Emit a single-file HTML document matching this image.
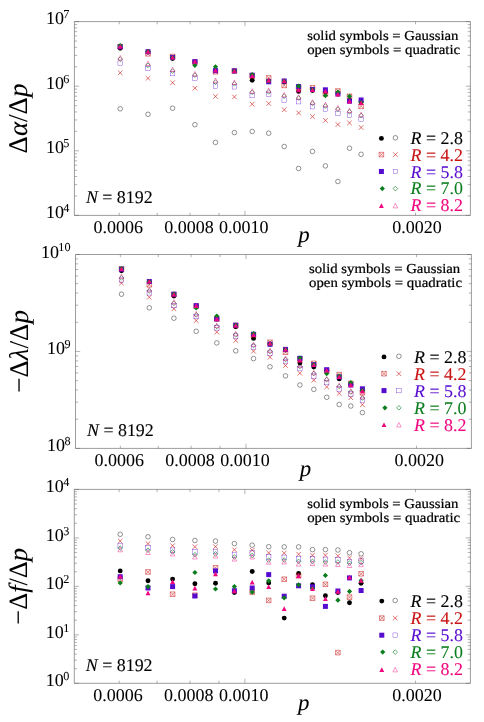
<!DOCTYPE html>
<html><head><meta charset="utf-8"><title>figure</title>
<style>html,body{margin:0;padding:0;background:#fff}svg{display:block;text-rendering:geometricPrecision;will-change:transform}text{font-family:'Liberation Serif', serif;stroke:#000;stroke-width:.05px}.c{stroke-width:.22px}.l{stroke-width:.1px}</style>
</head><body>
<svg width="484" height="722" viewBox="0 0 484 722">
<rect width="484" height="722" fill="#fff"/>
<g>
<circle cx="120.2" cy="108.8" r="2.3" fill="none" stroke="#000000" stroke-width="0.42"/>
<circle cx="148" cy="114.3" r="2.3" fill="none" stroke="#000000" stroke-width="0.42"/>
<circle cx="172.6" cy="108.2" r="2.3" fill="none" stroke="#000000" stroke-width="0.42"/>
<circle cx="194.9" cy="124.7" r="2.3" fill="none" stroke="#000000" stroke-width="0.42"/>
<circle cx="215.5" cy="142.4" r="2.3" fill="none" stroke="#000000" stroke-width="0.42"/>
<circle cx="234.4" cy="132.6" r="2.3" fill="none" stroke="#000000" stroke-width="0.42"/>
<circle cx="252.2" cy="131.4" r="2.3" fill="none" stroke="#000000" stroke-width="0.42"/>
<circle cx="268.7" cy="133.2" r="2.3" fill="none" stroke="#000000" stroke-width="0.42"/>
<circle cx="284.2" cy="146.5" r="2.3" fill="none" stroke="#000000" stroke-width="0.42"/>
<circle cx="298.6" cy="168.5" r="2.3" fill="none" stroke="#000000" stroke-width="0.42"/>
<circle cx="312.5" cy="151.4" r="2.3" fill="none" stroke="#000000" stroke-width="0.42"/>
<circle cx="325.4" cy="165.9" r="2.3" fill="none" stroke="#000000" stroke-width="0.42"/>
<circle cx="337.9" cy="181.5" r="2.3" fill="none" stroke="#000000" stroke-width="0.42"/>
<circle cx="349.5" cy="148.2" r="2.3" fill="none" stroke="#000000" stroke-width="0.42"/>
<circle cx="361.1" cy="154.3" r="2.3" fill="none" stroke="#000000" stroke-width="0.42"/>
<path d="M117.9 70.5l4.6 4.6 M117.9 75.1l4.6 -4.6" fill="none" stroke="#c81414" stroke-width="0.6"/>
<path d="M145.7 76l4.6 4.6 M145.7 80.6l4.6 -4.6" fill="none" stroke="#c81414" stroke-width="0.6"/>
<path d="M170.3 80.4l4.6 4.6 M170.3 85l4.6 -4.6" fill="none" stroke="#c81414" stroke-width="0.6"/>
<path d="M192.6 85.9l4.6 4.6 M192.6 90.5l4.6 -4.6" fill="none" stroke="#c81414" stroke-width="0.6"/>
<path d="M213.2 94.1l4.6 4.6 M213.2 98.7l4.6 -4.6" fill="none" stroke="#c81414" stroke-width="0.6"/>
<path d="M232.1 94.6l4.6 4.6 M232.1 99.2l4.6 -4.6" fill="none" stroke="#c81414" stroke-width="0.6"/>
<path d="M249.9 101.9l4.6 4.6 M249.9 106.5l4.6 -4.6" fill="none" stroke="#c81414" stroke-width="0.6"/>
<path d="M266.4 101.2l4.6 4.6 M266.4 105.8l4.6 -4.6" fill="none" stroke="#c81414" stroke-width="0.6"/>
<path d="M281.9 107.4l4.6 4.6 M281.9 112l4.6 -4.6" fill="none" stroke="#c81414" stroke-width="0.6"/>
<path d="M296.3 110.6l4.6 4.6 M296.3 115.2l4.6 -4.6" fill="none" stroke="#c81414" stroke-width="0.6"/>
<path d="M310.2 114.3l4.6 4.6 M310.2 118.9l4.6 -4.6" fill="none" stroke="#c81414" stroke-width="0.6"/>
<path d="M323.1 118.1l4.6 4.6 M323.1 122.7l4.6 -4.6" fill="none" stroke="#c81414" stroke-width="0.6"/>
<path d="M335.6 122.2l4.6 4.6 M335.6 126.8l4.6 -4.6" fill="none" stroke="#c81414" stroke-width="0.6"/>
<path d="M347.2 120.6l4.6 4.6 M347.2 125.2l4.6 -4.6" fill="none" stroke="#c81414" stroke-width="0.6"/>
<path d="M358.8 125.2l4.6 4.6 M358.8 129.8l4.6 -4.6" fill="none" stroke="#c81414" stroke-width="0.6"/>
<rect x="117.95" y="60.95" width="4.5" height="4.5" fill="none" stroke="#560ccf" stroke-width="0.34"/>
<rect x="145.75" y="66.15" width="4.5" height="4.5" fill="none" stroke="#560ccf" stroke-width="0.34"/>
<rect x="170.35" y="71.35" width="4.5" height="4.5" fill="none" stroke="#560ccf" stroke-width="0.34"/>
<rect x="192.65" y="76.05" width="4.5" height="4.5" fill="none" stroke="#560ccf" stroke-width="0.34"/>
<rect x="213.25" y="83.75" width="4.5" height="4.5" fill="none" stroke="#560ccf" stroke-width="0.34"/>
<rect x="232.15" y="84.55" width="4.5" height="4.5" fill="none" stroke="#560ccf" stroke-width="0.34"/>
<rect x="249.95" y="93.35" width="4.5" height="4.5" fill="none" stroke="#560ccf" stroke-width="0.34"/>
<rect x="266.45" y="92.05" width="4.5" height="4.5" fill="none" stroke="#560ccf" stroke-width="0.34"/>
<rect x="281.95" y="97.85" width="4.5" height="4.5" fill="none" stroke="#560ccf" stroke-width="0.34"/>
<rect x="296.35" y="99.45" width="4.5" height="4.5" fill="none" stroke="#560ccf" stroke-width="0.34"/>
<rect x="310.25" y="104.45" width="4.5" height="4.5" fill="none" stroke="#560ccf" stroke-width="0.34"/>
<rect x="323.15" y="107.05" width="4.5" height="4.5" fill="none" stroke="#560ccf" stroke-width="0.34"/>
<rect x="335.65" y="111.15" width="4.5" height="4.5" fill="none" stroke="#560ccf" stroke-width="0.34"/>
<rect x="347.25" y="112.95" width="4.5" height="4.5" fill="none" stroke="#560ccf" stroke-width="0.34"/>
<rect x="358.85" y="117.15" width="4.5" height="4.5" fill="none" stroke="#560ccf" stroke-width="0.34"/>
<path d="M120.2 56.8L122.5 59.1L120.2 61.4L117.9 59.1z" fill="none" stroke="#0a7d1e" stroke-width="0.62"/>
<path d="M148 63L150.3 65.3L148 67.6L145.7 65.3z" fill="none" stroke="#0a7d1e" stroke-width="0.62"/>
<path d="M172.6 68.8L174.9 71.1L172.6 73.4L170.3 71.1z" fill="none" stroke="#0a7d1e" stroke-width="0.62"/>
<path d="M194.9 72.8L197.2 75.1L194.9 77.4L192.6 75.1z" fill="none" stroke="#0a7d1e" stroke-width="0.62"/>
<path d="M215.5 79.9L217.8 82.2L215.5 84.5L213.2 82.2z" fill="none" stroke="#0a7d1e" stroke-width="0.62"/>
<path d="M234.4 81.6L236.7 83.9L234.4 86.2L232.1 83.9z" fill="none" stroke="#0a7d1e" stroke-width="0.62"/>
<path d="M252.2 90L254.5 92.3L252.2 94.6L249.9 92.3z" fill="none" stroke="#0a7d1e" stroke-width="0.62"/>
<path d="M268.7 89.6L271 91.9L268.7 94.2L266.4 91.9z" fill="none" stroke="#0a7d1e" stroke-width="0.62"/>
<path d="M284.2 93.9L286.5 96.2L284.2 98.5L281.9 96.2z" fill="none" stroke="#0a7d1e" stroke-width="0.62"/>
<path d="M298.6 95.7L300.9 98L298.6 100.3L296.3 98z" fill="none" stroke="#0a7d1e" stroke-width="0.62"/>
<path d="M312.5 101L314.8 103.3L312.5 105.6L310.2 103.3z" fill="none" stroke="#0a7d1e" stroke-width="0.62"/>
<path d="M325.4 103.7L327.7 106L325.4 108.3L323.1 106z" fill="none" stroke="#0a7d1e" stroke-width="0.62"/>
<path d="M337.9 106.8L340.2 109.1L337.9 111.4L335.6 109.1z" fill="none" stroke="#0a7d1e" stroke-width="0.62"/>
<path d="M349.5 109.5L351.8 111.8L349.5 114.1L347.2 111.8z" fill="none" stroke="#0a7d1e" stroke-width="0.62"/>
<path d="M361.1 113.1L363.4 115.4L361.1 117.7L358.8 115.4z" fill="none" stroke="#0a7d1e" stroke-width="0.62"/>
<path d="M120.2 55.4L122.5 59.9L117.9 59.9z" fill="none" stroke="#f0057f" stroke-width="0.42"/>
<path d="M148 61L150.3 65.5L145.7 65.5z" fill="none" stroke="#f0057f" stroke-width="0.42"/>
<path d="M172.6 67.1L174.9 71.6L170.3 71.6z" fill="none" stroke="#f0057f" stroke-width="0.42"/>
<path d="M194.9 71.5L197.2 76L192.6 76z" fill="none" stroke="#f0057f" stroke-width="0.42"/>
<path d="M215.5 78L217.8 82.5L213.2 82.5z" fill="none" stroke="#f0057f" stroke-width="0.42"/>
<path d="M234.4 80L236.7 84.5L232.1 84.5z" fill="none" stroke="#f0057f" stroke-width="0.42"/>
<path d="M252.2 88.7L254.5 93.2L249.9 93.2z" fill="none" stroke="#f0057f" stroke-width="0.42"/>
<path d="M268.7 87.9L271 92.4L266.4 92.4z" fill="none" stroke="#f0057f" stroke-width="0.42"/>
<path d="M284.2 92.3L286.5 96.8L281.9 96.8z" fill="none" stroke="#f0057f" stroke-width="0.42"/>
<path d="M298.6 94.7L300.9 99.2L296.3 99.2z" fill="none" stroke="#f0057f" stroke-width="0.42"/>
<path d="M312.5 99.7L314.8 104.2L310.2 104.2z" fill="none" stroke="#f0057f" stroke-width="0.42"/>
<path d="M325.4 102.2L327.7 106.7L323.1 106.7z" fill="none" stroke="#f0057f" stroke-width="0.42"/>
<path d="M337.9 105.5L340.2 110L335.6 110z" fill="none" stroke="#f0057f" stroke-width="0.42"/>
<path d="M349.5 108L351.8 112.5L347.2 112.5z" fill="none" stroke="#f0057f" stroke-width="0.42"/>
<path d="M361.1 112.1L363.4 116.6L358.8 116.6z" fill="none" stroke="#f0057f" stroke-width="0.42"/>
<circle cx="120.2" cy="48.2" r="2.45" fill="#000000"/>
<circle cx="148" cy="52" r="2.45" fill="#000000"/>
<circle cx="172.6" cy="58.5" r="2.45" fill="#000000"/>
<circle cx="194.9" cy="62" r="2.45" fill="#000000"/>
<circle cx="215.5" cy="70.5" r="2.45" fill="#000000"/>
<circle cx="234.4" cy="71" r="2.45" fill="#000000"/>
<circle cx="252.2" cy="80.3" r="2.45" fill="#000000"/>
<circle cx="268.7" cy="81" r="2.45" fill="#000000"/>
<circle cx="284.2" cy="82" r="2.45" fill="#000000"/>
<circle cx="298.6" cy="91.4" r="2.45" fill="#000000"/>
<circle cx="312.5" cy="90.6" r="2.45" fill="#000000"/>
<circle cx="325.4" cy="92" r="2.45" fill="#000000"/>
<circle cx="337.9" cy="94" r="2.45" fill="#000000"/>
<circle cx="349.5" cy="100.5" r="2.45" fill="#000000"/>
<circle cx="361.1" cy="102" r="2.45" fill="#000000"/>
<path d="M117.9 44.4h4.6v4.6h-4.6z M117.9 44.4l4.6 4.6 M117.9 49l4.6 -4.6" fill="none" stroke="#c81414" stroke-width="0.5"/>
<path d="M145.7 51.5h4.6v4.6h-4.6z M145.7 51.5l4.6 4.6 M145.7 56.1l4.6 -4.6" fill="none" stroke="#c81414" stroke-width="0.5"/>
<path d="M170.3 54.2h4.6v4.6h-4.6z M170.3 54.2l4.6 4.6 M170.3 58.8l4.6 -4.6" fill="none" stroke="#c81414" stroke-width="0.5"/>
<path d="M192.6 59.7h4.6v4.6h-4.6z M192.6 59.7l4.6 4.6 M192.6 64.3l4.6 -4.6" fill="none" stroke="#c81414" stroke-width="0.5"/>
<path d="M213.2 69.5h4.6v4.6h-4.6z M213.2 69.5l4.6 4.6 M213.2 74.1l4.6 -4.6" fill="none" stroke="#c81414" stroke-width="0.5"/>
<path d="M232.1 68.7h4.6v4.6h-4.6z M232.1 68.7l4.6 4.6 M232.1 73.3l4.6 -4.6" fill="none" stroke="#c81414" stroke-width="0.5"/>
<path d="M249.9 73.7h4.6v4.6h-4.6z M249.9 73.7l4.6 4.6 M249.9 78.3l4.6 -4.6" fill="none" stroke="#c81414" stroke-width="0.5"/>
<path d="M266.4 75.6h4.6v4.6h-4.6z M266.4 75.6l4.6 4.6 M266.4 80.2l4.6 -4.6" fill="none" stroke="#c81414" stroke-width="0.5"/>
<path d="M281.9 83.1h4.6v4.6h-4.6z M281.9 83.1l4.6 4.6 M281.9 87.7l4.6 -4.6" fill="none" stroke="#c81414" stroke-width="0.5"/>
<path d="M296.3 85.7h4.6v4.6h-4.6z M296.3 85.7l4.6 4.6 M296.3 90.3l4.6 -4.6" fill="none" stroke="#c81414" stroke-width="0.5"/>
<path d="M310.2 85.5h4.6v4.6h-4.6z M310.2 85.5l4.6 4.6 M310.2 90.1l4.6 -4.6" fill="none" stroke="#c81414" stroke-width="0.5"/>
<path d="M323.1 91.6h4.6v4.6h-4.6z M323.1 91.6l4.6 4.6 M323.1 96.2l4.6 -4.6" fill="none" stroke="#c81414" stroke-width="0.5"/>
<path d="M335.6 88.7h4.6v4.6h-4.6z M335.6 88.7l4.6 4.6 M335.6 93.3l4.6 -4.6" fill="none" stroke="#c81414" stroke-width="0.5"/>
<path d="M347.2 94h4.6v4.6h-4.6z M347.2 94l4.6 4.6 M347.2 98.6l4.6 -4.6" fill="none" stroke="#c81414" stroke-width="0.5"/>
<path d="M358.8 104h4.6v4.6h-4.6z M358.8 104l4.6 4.6 M358.8 108.6l4.6 -4.6" fill="none" stroke="#c81414" stroke-width="0.5"/>
<rect x="117.7" y="44.2" width="5" height="5" fill="#560ccf"/>
<rect x="145.5" y="49.2" width="5" height="5" fill="#560ccf"/>
<rect x="170.1" y="54.9" width="5" height="5" fill="#560ccf"/>
<rect x="192.4" y="59.2" width="5" height="5" fill="#560ccf"/>
<rect x="213" y="68.2" width="5" height="5" fill="#560ccf"/>
<rect x="231.9" y="68.4" width="5" height="5" fill="#560ccf"/>
<rect x="249.7" y="72.7" width="5" height="5" fill="#560ccf"/>
<rect x="266.2" y="79.3" width="5" height="5" fill="#560ccf"/>
<rect x="281.7" y="78.5" width="5" height="5" fill="#560ccf"/>
<rect x="296.1" y="84" width="5" height="5" fill="#560ccf"/>
<rect x="310" y="87" width="5" height="5" fill="#560ccf"/>
<rect x="322.9" y="87.3" width="5" height="5" fill="#560ccf"/>
<rect x="335.4" y="91.4" width="5" height="5" fill="#560ccf"/>
<rect x="347" y="98.7" width="5" height="5" fill="#560ccf"/>
<rect x="358.6" y="97.5" width="5" height="5" fill="#560ccf"/>
<path d="M120.2 42.9L122.8 45.5L120.2 48.1L117.6 45.5z" fill="#0a7d1e"/>
<path d="M148 48.9L150.6 51.5L148 54.1L145.4 51.5z" fill="#0a7d1e"/>
<path d="M172.6 54.9L175.2 57.5L172.6 60.1L170 57.5z" fill="#0a7d1e"/>
<path d="M194.9 62.7L197.5 65.3L194.9 67.9L192.3 65.3z" fill="#0a7d1e"/>
<path d="M215.5 64.2L218.1 66.8L215.5 69.4L212.9 66.8z" fill="#0a7d1e"/>
<path d="M234.4 68.4L237 71L234.4 73.6L231.8 71z" fill="#0a7d1e"/>
<path d="M252.2 72L254.8 74.6L252.2 77.2L249.6 74.6z" fill="#0a7d1e"/>
<path d="M268.7 78.4L271.3 81L268.7 83.6L266.1 81z" fill="#0a7d1e"/>
<path d="M284.2 78.4L286.8 81L284.2 83.6L281.6 81z" fill="#0a7d1e"/>
<path d="M298.6 83.6L301.2 86.2L298.6 88.8L296 86.2z" fill="#0a7d1e"/>
<path d="M312.5 86.9L315.1 89.5L312.5 92.1L309.9 89.5z" fill="#0a7d1e"/>
<path d="M325.4 93L328 95.6L325.4 98.2L322.8 95.6z" fill="#0a7d1e"/>
<path d="M337.9 89.4L340.5 92L337.9 94.6L335.3 92z" fill="#0a7d1e"/>
<path d="M349.5 93.7L352.1 96.3L349.5 98.9L346.9 96.3z" fill="#0a7d1e"/>
<path d="M361.1 99.9L363.7 102.5L361.1 105.1L358.5 102.5z" fill="#0a7d1e"/>
<path d="M120.2 43.9L122.65 48.6L117.75 48.6z" fill="#f0057f"/>
<path d="M148 49.1L150.45 53.8L145.55 53.8z" fill="#f0057f"/>
<path d="M172.6 54.9L175.05 59.6L170.15 59.6z" fill="#f0057f"/>
<path d="M194.9 59.1L197.35 63.8L192.45 63.8z" fill="#f0057f"/>
<path d="M215.5 67.9L217.95 72.6L213.05 72.6z" fill="#f0057f"/>
<path d="M234.4 68.4L236.85 73.1L231.95 73.1z" fill="#f0057f"/>
<path d="M252.2 73.4L254.65 78.1L249.75 78.1z" fill="#f0057f"/>
<path d="M268.7 77.7L271.15 82.4L266.25 82.4z" fill="#f0057f"/>
<path d="M284.2 78.4L286.65 83.1L281.75 83.1z" fill="#f0057f"/>
<path d="M298.6 87.5L301.05 92.2L296.15 92.2z" fill="#f0057f"/>
<path d="M312.5 87.2L314.95 91.9L310.05 91.9z" fill="#f0057f"/>
<path d="M325.4 88.8L327.85 93.5L322.95 93.5z" fill="#f0057f"/>
<path d="M337.9 91.8L340.35 96.5L335.45 96.5z" fill="#f0057f"/>
<path d="M349.5 98.7L351.95 103.4L347.05 103.4z" fill="#f0057f"/>
<path d="M361.1 100.4L363.55 105.1L358.65 105.1z" fill="#f0057f"/>
</g>
<path d="M74.4 21.6H470.4V215.4H74.4z" fill="none" stroke="#606060" stroke-width="0.62"/>
<path d="M119.26 215.4v-2.7 M119.26 21.6v2.7M157.19 215.4v-2.7 M157.19 21.6v2.7M190.04 215.4v-2.7 M190.04 21.6v2.7M219.02 215.4v-2.7 M219.02 21.6v2.7M415.5 215.4v-2.7 M415.5 21.6v2.7M244.95 215.4v-4.7 M244.95 21.6v4.7M74.4 21.6h4.7 M470.4 21.6h-4.7M74.4 66.75h2.7 M470.4 66.75h-2.7M74.4 55.38h2.7 M470.4 55.38h-2.7M74.4 47.31h2.7 M470.4 47.31h-2.7M74.4 41.05h2.7 M470.4 41.05h-2.7M74.4 35.93h2.7 M470.4 35.93h-2.7M74.4 31.61h2.7 M470.4 31.61h-2.7M74.4 27.86h2.7 M470.4 27.86h-2.7M74.4 24.56h2.7 M470.4 24.56h-2.7M74.4 86.2h4.7 M470.4 86.2h-4.7M74.4 131.35h2.7 M470.4 131.35h-2.7M74.4 119.98h2.7 M470.4 119.98h-2.7M74.4 111.91h2.7 M470.4 111.91h-2.7M74.4 105.65h2.7 M470.4 105.65h-2.7M74.4 100.53h2.7 M470.4 100.53h-2.7M74.4 96.21h2.7 M470.4 96.21h-2.7M74.4 92.46h2.7 M470.4 92.46h-2.7M74.4 89.16h2.7 M470.4 89.16h-2.7M74.4 150.8h4.7 M470.4 150.8h-4.7M74.4 195.95h2.7 M470.4 195.95h-2.7M74.4 184.58h2.7 M470.4 184.58h-2.7M74.4 176.51h2.7 M470.4 176.51h-2.7M74.4 170.25h2.7 M470.4 170.25h-2.7M74.4 165.13h2.7 M470.4 165.13h-2.7M74.4 160.81h2.7 M470.4 160.81h-2.7M74.4 157.06h2.7 M470.4 157.06h-2.7M74.4 153.76h2.7 M470.4 153.76h-2.7M74.4 215.4h4.7 M470.4 215.4h-4.7" fill="none" stroke="#606060" stroke-width="0.48"/>
<text x="118.16" y="232.7" font-size="18" text-anchor="middle">0.0006</text>
<text x="188.94" y="232.7" font-size="18" text-anchor="middle">0.0008</text>
<text x="243.85" y="232.7" font-size="18" text-anchor="middle">0.0010</text>
<text x="417.1" y="232.7" font-size="18" text-anchor="middle">0.0020</text>
<text x="69.4" y="24.1" font-size="18" text-anchor="end">10<tspan font-size="12.2" dy="-6.1" dx="-0.6">7</tspan></text>
<text x="69.4" y="88.7" font-size="18" text-anchor="end">10<tspan font-size="12.2" dy="-6.1" dx="-0.6">6</tspan></text>
<text x="69.4" y="153.3" font-size="18" text-anchor="end">10<tspan font-size="12.2" dy="-6.1" dx="-0.6">5</tspan></text>
<text x="69.4" y="217.9" font-size="18" text-anchor="end">10<tspan font-size="12.2" dy="-6.1" dx="-0.6">4</tspan></text>
<text x="298.3" y="242.3" font-size="22.8" font-style="italic">p</text>
<text transform="translate(26.6 118.5) rotate(-90)" font-size="27" text-anchor="middle">Δ<tspan font-style="italic">α</tspan>/Δ<tspan font-style="italic">p</tspan></text>
<text x="307.2" y="39.9" class="c" font-size="13.7" textLength="151.2" lengthAdjust="spacingAndGlyphs">solid symbols = Gaussian</text>
<text x="307.2" y="54.2" class="c" font-size="13.7" textLength="153" lengthAdjust="spacingAndGlyphs">open symbols = quadratic</text>
<text x="85.9" y="202.6" class="l" font-size="17.9"><tspan font-style="italic">N</tspan> = 8192</text>
<circle cx="381.4" cy="138.4" r="2.45" fill="#000000"/>
<circle cx="395.4" cy="137.8" r="2.3" fill="none" stroke="#000000" stroke-width="0.42"/>
<text x="410.5" y="143.6" class="l" font-size="17.9" style="fill:#000000;stroke:#000000"><tspan font-style="italic">R</tspan> = 2.8</text>
<path d="M379.1 152.3h4.6v4.6h-4.6z M379.1 152.3l4.6 4.6 M379.1 156.9l4.6 -4.6" fill="none" stroke="#c81414" stroke-width="0.5"/>
<path d="M393.1 152.3l4.6 4.6 M393.1 156.9l4.6 -4.6" fill="none" stroke="#c81414" stroke-width="0.6"/>
<text x="410.5" y="160.7" class="l" font-size="17.9" style="fill:#c81414;stroke:#c81414"><tspan font-style="italic">R</tspan> = 4.2</text>
<rect x="378.9" y="169" width="5" height="5" fill="#560ccf"/>
<rect x="393.15" y="169.25" width="4.5" height="4.5" fill="none" stroke="#560ccf" stroke-width="0.34"/>
<text x="410.5" y="177.5" class="l" font-size="17.9" style="fill:#560ccf;stroke:#560ccf"><tspan font-style="italic">R</tspan> = 5.8</text>
<path d="M382.3 186L384.9 188.6L382.3 191.2L379.7 188.6z" fill="#0a7d1e"/>
<path d="M395.4 186.3L397.7 188.6L395.4 190.9L393.1 188.6z" fill="none" stroke="#0a7d1e" stroke-width="0.62"/>
<text x="410.5" y="194.4" class="l" font-size="17.9" style="fill:#0a7d1e;stroke:#0a7d1e"><tspan font-style="italic">R</tspan> = 7.0</text>
<path d="M381.4 203.3L383.85 208L378.95 208z" fill="#f0057f"/>
<path d="M395.4 203.4L397.7 207.9L393.1 207.9z" fill="none" stroke="#f0057f" stroke-width="0.42"/>
<text x="410.5" y="211.1" class="l" font-size="17.9" style="fill:#f0057f;stroke:#f0057f"><tspan font-style="italic">R</tspan> = 8.2</text>
<g>
<circle cx="121.5" cy="294.2" r="2.3" fill="none" stroke="#000000" stroke-width="0.42"/>
<circle cx="149.3" cy="307.8" r="2.3" fill="none" stroke="#000000" stroke-width="0.42"/>
<circle cx="173.9" cy="318.2" r="2.3" fill="none" stroke="#000000" stroke-width="0.42"/>
<circle cx="196.2" cy="331.3" r="2.3" fill="none" stroke="#000000" stroke-width="0.42"/>
<circle cx="216.8" cy="342.9" r="2.3" fill="none" stroke="#000000" stroke-width="0.42"/>
<circle cx="235.7" cy="350.8" r="2.3" fill="none" stroke="#000000" stroke-width="0.42"/>
<circle cx="253.5" cy="358.6" r="2.3" fill="none" stroke="#000000" stroke-width="0.42"/>
<circle cx="270" cy="366.8" r="2.3" fill="none" stroke="#000000" stroke-width="0.42"/>
<circle cx="285.5" cy="375.9" r="2.3" fill="none" stroke="#000000" stroke-width="0.42"/>
<circle cx="299.9" cy="385" r="2.3" fill="none" stroke="#000000" stroke-width="0.42"/>
<circle cx="313.8" cy="389.4" r="2.3" fill="none" stroke="#000000" stroke-width="0.42"/>
<circle cx="326.7" cy="397.3" r="2.3" fill="none" stroke="#000000" stroke-width="0.42"/>
<circle cx="339.2" cy="404.5" r="2.3" fill="none" stroke="#000000" stroke-width="0.42"/>
<circle cx="350.8" cy="406" r="2.3" fill="none" stroke="#000000" stroke-width="0.42"/>
<circle cx="362.4" cy="412.6" r="2.3" fill="none" stroke="#000000" stroke-width="0.42"/>
<path d="M119.2 280.8l4.6 4.6 M119.2 285.4l4.6 -4.6" fill="none" stroke="#c81414" stroke-width="0.6"/>
<path d="M147 294.9l4.6 4.6 M147 299.5l4.6 -4.6" fill="none" stroke="#c81414" stroke-width="0.6"/>
<path d="M171.6 306.5l4.6 4.6 M171.6 311.1l4.6 -4.6" fill="none" stroke="#c81414" stroke-width="0.6"/>
<path d="M193.9 318.3l4.6 4.6 M193.9 322.9l4.6 -4.6" fill="none" stroke="#c81414" stroke-width="0.6"/>
<path d="M214.5 329.8l4.6 4.6 M214.5 334.4l4.6 -4.6" fill="none" stroke="#c81414" stroke-width="0.6"/>
<path d="M233.4 338.1l4.6 4.6 M233.4 342.7l4.6 -4.6" fill="none" stroke="#c81414" stroke-width="0.6"/>
<path d="M251.2 348.9l4.6 4.6 M251.2 353.5l4.6 -4.6" fill="none" stroke="#c81414" stroke-width="0.6"/>
<path d="M267.7 354.9l4.6 4.6 M267.7 359.5l4.6 -4.6" fill="none" stroke="#c81414" stroke-width="0.6"/>
<path d="M283.2 363.2l4.6 4.6 M283.2 367.8l4.6 -4.6" fill="none" stroke="#c81414" stroke-width="0.6"/>
<path d="M297.6 370.9l4.6 4.6 M297.6 375.5l4.6 -4.6" fill="none" stroke="#c81414" stroke-width="0.6"/>
<path d="M311.5 377.9l4.6 4.6 M311.5 382.5l4.6 -4.6" fill="none" stroke="#c81414" stroke-width="0.6"/>
<path d="M324.4 384.6l4.6 4.6 M324.4 389.2l4.6 -4.6" fill="none" stroke="#c81414" stroke-width="0.6"/>
<path d="M336.9 391.1l4.6 4.6 M336.9 395.7l4.6 -4.6" fill="none" stroke="#c81414" stroke-width="0.6"/>
<path d="M348.5 395.4l4.6 4.6 M348.5 400l4.6 -4.6" fill="none" stroke="#c81414" stroke-width="0.6"/>
<path d="M360.1 402.4l4.6 4.6 M360.1 407l4.6 -4.6" fill="none" stroke="#c81414" stroke-width="0.6"/>
<rect x="119.25" y="277.85" width="4.5" height="4.5" fill="none" stroke="#560ccf" stroke-width="0.34"/>
<rect x="147.05" y="290.55" width="4.5" height="4.5" fill="none" stroke="#560ccf" stroke-width="0.34"/>
<rect x="171.65" y="303.35" width="4.5" height="4.5" fill="none" stroke="#560ccf" stroke-width="0.34"/>
<rect x="193.95" y="314.35" width="4.5" height="4.5" fill="none" stroke="#560ccf" stroke-width="0.34"/>
<rect x="214.55" y="325.55" width="4.5" height="4.5" fill="none" stroke="#560ccf" stroke-width="0.34"/>
<rect x="233.45" y="333.85" width="4.5" height="4.5" fill="none" stroke="#560ccf" stroke-width="0.34"/>
<rect x="251.25" y="344.85" width="4.5" height="4.5" fill="none" stroke="#560ccf" stroke-width="0.34"/>
<rect x="267.75" y="350.95" width="4.5" height="4.5" fill="none" stroke="#560ccf" stroke-width="0.34"/>
<rect x="283.25" y="359.15" width="4.5" height="4.5" fill="none" stroke="#560ccf" stroke-width="0.34"/>
<rect x="297.65" y="366.25" width="4.5" height="4.5" fill="none" stroke="#560ccf" stroke-width="0.34"/>
<rect x="311.55" y="373.85" width="4.5" height="4.5" fill="none" stroke="#560ccf" stroke-width="0.34"/>
<rect x="324.45" y="380.35" width="4.5" height="4.5" fill="none" stroke="#560ccf" stroke-width="0.34"/>
<rect x="336.95" y="386.65" width="4.5" height="4.5" fill="none" stroke="#560ccf" stroke-width="0.34"/>
<rect x="348.55" y="391.75" width="4.5" height="4.5" fill="none" stroke="#560ccf" stroke-width="0.34"/>
<rect x="360.15" y="397.95" width="4.5" height="4.5" fill="none" stroke="#560ccf" stroke-width="0.34"/>
<path d="M121.5 275.6L123.8 277.9L121.5 280.2L119.2 277.9z" fill="none" stroke="#0a7d1e" stroke-width="0.62"/>
<path d="M149.3 288.6L151.6 290.9L149.3 293.2L147 290.9z" fill="none" stroke="#0a7d1e" stroke-width="0.62"/>
<path d="M173.9 301L176.2 303.3L173.9 305.6L171.6 303.3z" fill="none" stroke="#0a7d1e" stroke-width="0.62"/>
<path d="M196.2 312.5L198.5 314.8L196.2 317.1L193.9 314.8z" fill="none" stroke="#0a7d1e" stroke-width="0.62"/>
<path d="M216.8 324.2L219.1 326.5L216.8 328.8L214.5 326.5z" fill="none" stroke="#0a7d1e" stroke-width="0.62"/>
<path d="M235.7 332.5L238 334.8L235.7 337.1L233.4 334.8z" fill="none" stroke="#0a7d1e" stroke-width="0.62"/>
<path d="M253.5 343.2L255.8 345.5L253.5 347.8L251.2 345.5z" fill="none" stroke="#0a7d1e" stroke-width="0.62"/>
<path d="M270 349.2L272.3 351.5L270 353.8L267.7 351.5z" fill="none" stroke="#0a7d1e" stroke-width="0.62"/>
<path d="M285.5 357.2L287.8 359.5L285.5 361.8L283.2 359.5z" fill="none" stroke="#0a7d1e" stroke-width="0.62"/>
<path d="M299.9 364.2L302.2 366.5L299.9 368.8L297.6 366.5z" fill="none" stroke="#0a7d1e" stroke-width="0.62"/>
<path d="M313.8 371.2L316.1 373.5L313.8 375.8L311.5 373.5z" fill="none" stroke="#0a7d1e" stroke-width="0.62"/>
<path d="M326.7 377.2L329 379.5L326.7 381.8L324.4 379.5z" fill="none" stroke="#0a7d1e" stroke-width="0.62"/>
<path d="M339.2 384.2L341.5 386.5L339.2 388.8L336.9 386.5z" fill="none" stroke="#0a7d1e" stroke-width="0.62"/>
<path d="M350.8 389.7L353.1 392L350.8 394.3L348.5 392z" fill="none" stroke="#0a7d1e" stroke-width="0.62"/>
<path d="M362.4 395.7L364.7 398L362.4 400.3L360.1 398z" fill="none" stroke="#0a7d1e" stroke-width="0.62"/>
<path d="M121.5 274L123.8 278.5L119.2 278.5z" fill="none" stroke="#f0057f" stroke-width="0.42"/>
<path d="M149.3 287.3L151.6 291.8L147 291.8z" fill="none" stroke="#f0057f" stroke-width="0.42"/>
<path d="M173.9 299.6L176.2 304.1L171.6 304.1z" fill="none" stroke="#f0057f" stroke-width="0.42"/>
<path d="M196.2 311.5L198.5 316L193.9 316z" fill="none" stroke="#f0057f" stroke-width="0.42"/>
<path d="M216.8 323L219.1 327.5L214.5 327.5z" fill="none" stroke="#f0057f" stroke-width="0.42"/>
<path d="M235.7 331.3L238 335.8L233.4 335.8z" fill="none" stroke="#f0057f" stroke-width="0.42"/>
<path d="M253.5 342L255.8 346.5L251.2 346.5z" fill="none" stroke="#f0057f" stroke-width="0.42"/>
<path d="M270 348.1L272.3 352.6L267.7 352.6z" fill="none" stroke="#f0057f" stroke-width="0.42"/>
<path d="M285.5 356L287.8 360.5L283.2 360.5z" fill="none" stroke="#f0057f" stroke-width="0.42"/>
<path d="M299.9 363L302.2 367.5L297.6 367.5z" fill="none" stroke="#f0057f" stroke-width="0.42"/>
<path d="M313.8 370.3L316.1 374.8L311.5 374.8z" fill="none" stroke="#f0057f" stroke-width="0.42"/>
<path d="M326.7 376.5L329 381L324.4 381z" fill="none" stroke="#f0057f" stroke-width="0.42"/>
<path d="M339.2 382.9L341.5 387.4L336.9 387.4z" fill="none" stroke="#f0057f" stroke-width="0.42"/>
<path d="M350.8 388.7L353.1 393.2L348.5 393.2z" fill="none" stroke="#f0057f" stroke-width="0.42"/>
<path d="M362.4 394.5L364.7 399L360.1 399z" fill="none" stroke="#f0057f" stroke-width="0.42"/>
<circle cx="121.5" cy="270.7" r="2.45" fill="#000000"/>
<circle cx="149.3" cy="282" r="2.45" fill="#000000"/>
<circle cx="173.9" cy="296" r="2.45" fill="#000000"/>
<circle cx="196.2" cy="306" r="2.45" fill="#000000"/>
<circle cx="216.8" cy="319" r="2.45" fill="#000000"/>
<circle cx="235.7" cy="326.7" r="2.45" fill="#000000"/>
<circle cx="253.5" cy="338.4" r="2.45" fill="#000000"/>
<circle cx="270" cy="344" r="2.45" fill="#000000"/>
<circle cx="285.5" cy="350" r="2.45" fill="#000000"/>
<circle cx="299.9" cy="363" r="2.45" fill="#000000"/>
<circle cx="313.8" cy="367.1" r="2.45" fill="#000000"/>
<circle cx="326.7" cy="370.5" r="2.45" fill="#000000"/>
<circle cx="339.2" cy="378.9" r="2.45" fill="#000000"/>
<circle cx="350.8" cy="384.5" r="2.45" fill="#000000"/>
<circle cx="362.4" cy="390" r="2.45" fill="#000000"/>
<path d="M119.2 266.7h4.6v4.6h-4.6z M119.2 266.7l4.6 4.6 M119.2 271.3l4.6 -4.6" fill="none" stroke="#c81414" stroke-width="0.5"/>
<path d="M147 282.5h4.6v4.6h-4.6z M147 282.5l4.6 4.6 M147 287.1l4.6 -4.6" fill="none" stroke="#c81414" stroke-width="0.5"/>
<path d="M171.6 292.2h4.6v4.6h-4.6z M171.6 292.2l4.6 4.6 M171.6 296.8l4.6 -4.6" fill="none" stroke="#c81414" stroke-width="0.5"/>
<path d="M193.9 303.7h4.6v4.6h-4.6z M193.9 303.7l4.6 4.6 M193.9 308.3l4.6 -4.6" fill="none" stroke="#c81414" stroke-width="0.5"/>
<path d="M214.5 316.7h4.6v4.6h-4.6z M214.5 316.7l4.6 4.6 M214.5 321.3l4.6 -4.6" fill="none" stroke="#c81414" stroke-width="0.5"/>
<path d="M233.4 323.2h4.6v4.6h-4.6z M233.4 323.2l4.6 4.6 M233.4 327.8l4.6 -4.6" fill="none" stroke="#c81414" stroke-width="0.5"/>
<path d="M251.2 332.7h4.6v4.6h-4.6z M251.2 332.7l4.6 4.6 M251.2 337.3l4.6 -4.6" fill="none" stroke="#c81414" stroke-width="0.5"/>
<path d="M267.7 340h4.6v4.6h-4.6z M267.7 340l4.6 4.6 M267.7 344.6l4.6 -4.6" fill="none" stroke="#c81414" stroke-width="0.5"/>
<path d="M283.2 349.9h4.6v4.6h-4.6z M283.2 349.9l4.6 4.6 M283.2 354.5l4.6 -4.6" fill="none" stroke="#c81414" stroke-width="0.5"/>
<path d="M297.6 356.7h4.6v4.6h-4.6z M297.6 356.7l4.6 4.6 M297.6 361.3l4.6 -4.6" fill="none" stroke="#c81414" stroke-width="0.5"/>
<path d="M311.5 361h4.6v4.6h-4.6z M311.5 361l4.6 4.6 M311.5 365.6l4.6 -4.6" fill="none" stroke="#c81414" stroke-width="0.5"/>
<path d="M324.4 368.7h4.6v4.6h-4.6z M324.4 368.7l4.6 4.6 M324.4 373.3l4.6 -4.6" fill="none" stroke="#c81414" stroke-width="0.5"/>
<path d="M336.9 372.3h4.6v4.6h-4.6z M336.9 372.3l4.6 4.6 M336.9 376.9l4.6 -4.6" fill="none" stroke="#c81414" stroke-width="0.5"/>
<path d="M348.5 381.2h4.6v4.6h-4.6z M348.5 381.2l4.6 4.6 M348.5 385.8l4.6 -4.6" fill="none" stroke="#c81414" stroke-width="0.5"/>
<path d="M360.1 390.4h4.6v4.6h-4.6z M360.1 390.4l4.6 4.6 M360.1 395l4.6 -4.6" fill="none" stroke="#c81414" stroke-width="0.5"/>
<rect x="119" y="266.6" width="5" height="5" fill="#560ccf"/>
<rect x="146.8" y="279" width="5" height="5" fill="#560ccf"/>
<rect x="171.4" y="291.7" width="5" height="5" fill="#560ccf"/>
<rect x="193.7" y="303.2" width="5" height="5" fill="#560ccf"/>
<rect x="214.3" y="316.4" width="5" height="5" fill="#560ccf"/>
<rect x="233.2" y="322.7" width="5" height="5" fill="#560ccf"/>
<rect x="251" y="331.8" width="5" height="5" fill="#560ccf"/>
<rect x="267.5" y="341.8" width="5" height="5" fill="#560ccf"/>
<rect x="283" y="346.9" width="5" height="5" fill="#560ccf"/>
<rect x="297.4" y="355.8" width="5" height="5" fill="#560ccf"/>
<rect x="311.3" y="362.1" width="5" height="5" fill="#560ccf"/>
<rect x="324.2" y="367.2" width="5" height="5" fill="#560ccf"/>
<rect x="336.7" y="374.3" width="5" height="5" fill="#560ccf"/>
<rect x="348.3" y="382.5" width="5" height="5" fill="#560ccf"/>
<rect x="359.9" y="386.3" width="5" height="5" fill="#560ccf"/>
<path d="M121.5 265.9L124.1 268.5L121.5 271.1L118.9 268.5z" fill="#0a7d1e"/>
<path d="M149.3 278.9L151.9 281.5L149.3 284.1L146.7 281.5z" fill="#0a7d1e"/>
<path d="M173.9 291.4L176.5 294L173.9 296.6L171.3 294z" fill="#0a7d1e"/>
<path d="M196.2 305.3L198.8 307.9L196.2 310.5L193.6 307.9z" fill="#0a7d1e"/>
<path d="M216.8 313.5L219.4 316.1L216.8 318.7L214.2 316.1z" fill="#0a7d1e"/>
<path d="M235.7 322.6L238.3 325.2L235.7 327.8L233.1 325.2z" fill="#0a7d1e"/>
<path d="M253.5 330.9L256.1 333.5L253.5 336.1L250.9 333.5z" fill="#0a7d1e"/>
<path d="M270 341.4L272.6 344L270 346.6L267.4 344z" fill="#0a7d1e"/>
<path d="M285.5 346.9L288.1 349.5L285.5 352.1L282.9 349.5z" fill="#0a7d1e"/>
<path d="M299.9 355.4L302.5 358L299.9 360.6L297.3 358z" fill="#0a7d1e"/>
<path d="M313.8 362L316.4 364.6L313.8 367.2L311.2 364.6z" fill="#0a7d1e"/>
<path d="M326.7 371L329.3 373.6L326.7 376.2L324.1 373.6z" fill="#0a7d1e"/>
<path d="M339.2 373.4L341.8 376L339.2 378.6L336.6 376z" fill="#0a7d1e"/>
<path d="M350.8 379.9L353.4 382.5L350.8 385.1L348.2 382.5z" fill="#0a7d1e"/>
<path d="M362.4 388L365 390.6L362.4 393.2L359.8 390.6z" fill="#0a7d1e"/>
<path d="M121.5 266.4L123.95 271.1L119.05 271.1z" fill="#f0057f"/>
<path d="M149.3 278.9L151.75 283.6L146.85 283.6z" fill="#f0057f"/>
<path d="M173.9 291.9L176.35 296.6L171.45 296.6z" fill="#f0057f"/>
<path d="M196.2 303.3L198.65 308L193.75 308z" fill="#f0057f"/>
<path d="M216.8 316.4L219.25 321.1L214.35 321.1z" fill="#f0057f"/>
<path d="M235.7 322.9L238.15 327.6L233.25 327.6z" fill="#f0057f"/>
<path d="M253.5 332.2L255.95 336.9L251.05 336.9z" fill="#f0057f"/>
<path d="M270 340.9L272.45 345.6L267.55 345.6z" fill="#f0057f"/>
<path d="M285.5 346.9L287.95 351.6L283.05 351.6z" fill="#f0057f"/>
<path d="M299.9 357.9L302.35 362.6L297.45 362.6z" fill="#f0057f"/>
<path d="M313.8 362.4L316.25 367.1L311.35 367.1z" fill="#f0057f"/>
<path d="M326.7 367.9L329.15 372.6L324.25 372.6z" fill="#f0057f"/>
<path d="M339.2 374.2L341.65 378.9L336.75 378.9z" fill="#f0057f"/>
<path d="M350.8 382.6L353.25 387.3L348.35 387.3z" fill="#f0057f"/>
<path d="M362.4 388.6L364.85 393.3L359.95 393.3z" fill="#f0057f"/>
</g>
<path d="M75.5 254.5H471.4V448.4H75.5z" fill="none" stroke="#606060" stroke-width="0.62"/>
<path d="M120.35 448.4v-2.7 M120.35 254.5v2.7M158.27 448.4v-2.7 M158.27 254.5v2.7M191.11 448.4v-2.7 M191.11 254.5v2.7M220.09 448.4v-2.7 M220.09 254.5v2.7M416.51 448.4v-2.7 M416.51 254.5v2.7M246 448.4v-4.7 M246 254.5v4.7M75.5 254.5h4.7 M471.4 254.5h-4.7M75.5 322.27h2.7 M471.4 322.27h-2.7M75.5 305.19h2.7 M471.4 305.19h-2.7M75.5 293.08h2.7 M471.4 293.08h-2.7M75.5 283.68h2.7 M471.4 283.68h-2.7M75.5 276.01h2.7 M471.4 276.01h-2.7M75.5 269.52h2.7 M471.4 269.52h-2.7M75.5 263.9h2.7 M471.4 263.9h-2.7M75.5 258.94h2.7 M471.4 258.94h-2.7M75.5 351.45h4.7 M471.4 351.45h-4.7M75.5 419.22h2.7 M471.4 419.22h-2.7M75.5 402.14h2.7 M471.4 402.14h-2.7M75.5 390.03h2.7 M471.4 390.03h-2.7M75.5 380.63h2.7 M471.4 380.63h-2.7M75.5 372.96h2.7 M471.4 372.96h-2.7M75.5 366.47h2.7 M471.4 366.47h-2.7M75.5 360.85h2.7 M471.4 360.85h-2.7M75.5 355.89h2.7 M471.4 355.89h-2.7M75.5 448.4h4.7 M471.4 448.4h-4.7" fill="none" stroke="#606060" stroke-width="0.48"/>
<text x="119.25" y="465.7" font-size="18" text-anchor="middle">0.0006</text>
<text x="190.01" y="465.7" font-size="18" text-anchor="middle">0.0008</text>
<text x="244.9" y="465.7" font-size="18" text-anchor="middle">0.0010</text>
<text x="419.21" y="465.7" font-size="18" text-anchor="middle">0.0020</text>
<text x="70.5" y="257.5" font-size="18" text-anchor="end">10<tspan font-size="12.2" dy="-6.1" dx="-0.6">10</tspan></text>
<text x="70.5" y="354.45" font-size="18" text-anchor="end">10<tspan font-size="12.2" dy="-6.1" dx="-0.6">9</tspan></text>
<text x="70.5" y="451.4" font-size="18" text-anchor="end">10<tspan font-size="12.2" dy="-6.1" dx="-0.6">8</tspan></text>
<text x="299.7" y="475.8" font-size="22.8" font-style="italic">p</text>
<text transform="translate(28.1 351.45) rotate(-90)" font-size="27" text-anchor="middle">−Δ<tspan font-style="italic">λ</tspan>/Δ<tspan font-style="italic">p</tspan></text>
<text x="309" y="272.8" class="c" font-size="13.7" textLength="151.2" lengthAdjust="spacingAndGlyphs">solid symbols = Gaussian</text>
<text x="309" y="287.1" class="c" font-size="13.7" textLength="153" lengthAdjust="spacingAndGlyphs">open symbols = quadratic</text>
<text x="87" y="435.6" class="l" font-size="17.9"><tspan font-style="italic">N</tspan> = 8192</text>
<circle cx="384" cy="356.9" r="2.45" fill="#000000"/>
<circle cx="398.9" cy="356.3" r="2.3" fill="none" stroke="#000000" stroke-width="0.42"/>
<text x="414" y="362.6" class="l" font-size="17.9" style="fill:#000000;stroke:#000000"><tspan font-style="italic">R</tspan> = 2.8</text>
<path d="M381.7 371.4h4.6v4.6h-4.6z M381.7 371.4l4.6 4.6 M381.7 376l4.6 -4.6" fill="none" stroke="#c81414" stroke-width="0.5"/>
<path d="M396.6 371.4l4.6 4.6 M396.6 376l4.6 -4.6" fill="none" stroke="#c81414" stroke-width="0.6"/>
<text x="414" y="379.8" class="l" font-size="17.9" style="fill:#c81414;stroke:#c81414"><tspan font-style="italic">R</tspan> = 4.2</text>
<rect x="381.5" y="388.1" width="5" height="5" fill="#560ccf"/>
<rect x="396.65" y="388.35" width="4.5" height="4.5" fill="none" stroke="#560ccf" stroke-width="0.34"/>
<text x="414" y="396.7" class="l" font-size="17.9" style="fill:#560ccf;stroke:#560ccf"><tspan font-style="italic">R</tspan> = 5.8</text>
<path d="M384.9 405.2L387.5 407.8L384.9 410.4L382.3 407.8z" fill="#0a7d1e"/>
<path d="M398.9 405.5L401.2 407.8L398.9 410.1L396.6 407.8z" fill="none" stroke="#0a7d1e" stroke-width="0.62"/>
<text x="414" y="413.8" class="l" font-size="17.9" style="fill:#0a7d1e;stroke:#0a7d1e"><tspan font-style="italic">R</tspan> = 7.0</text>
<path d="M384 422.4L386.45 427.1L381.55 427.1z" fill="#f0057f"/>
<path d="M398.9 422.5L401.2 427L396.6 427z" fill="none" stroke="#f0057f" stroke-width="0.42"/>
<text x="414" y="430.8" class="l" font-size="17.9" style="fill:#f0057f;stroke:#f0057f"><tspan font-style="italic">R</tspan> = 8.2</text>
<g>
<circle cx="120.2" cy="534.3" r="2.3" fill="none" stroke="#000000" stroke-width="0.42"/>
<circle cx="148" cy="536.8" r="2.3" fill="none" stroke="#000000" stroke-width="0.42"/>
<circle cx="172.6" cy="539.5" r="2.3" fill="none" stroke="#000000" stroke-width="0.42"/>
<circle cx="194.9" cy="540.5" r="2.3" fill="none" stroke="#000000" stroke-width="0.42"/>
<circle cx="215.5" cy="541.1" r="2.3" fill="none" stroke="#000000" stroke-width="0.42"/>
<circle cx="234.4" cy="543.6" r="2.3" fill="none" stroke="#000000" stroke-width="0.42"/>
<circle cx="252.2" cy="545.2" r="2.3" fill="none" stroke="#000000" stroke-width="0.42"/>
<circle cx="268.7" cy="546.7" r="2.3" fill="none" stroke="#000000" stroke-width="0.42"/>
<circle cx="284.2" cy="546.9" r="2.3" fill="none" stroke="#000000" stroke-width="0.42"/>
<circle cx="298.6" cy="546.9" r="2.3" fill="none" stroke="#000000" stroke-width="0.42"/>
<circle cx="312.5" cy="549.6" r="2.3" fill="none" stroke="#000000" stroke-width="0.42"/>
<circle cx="325.4" cy="549.6" r="2.3" fill="none" stroke="#000000" stroke-width="0.42"/>
<circle cx="337.9" cy="550" r="2.3" fill="none" stroke="#000000" stroke-width="0.42"/>
<circle cx="349.5" cy="552.7" r="2.3" fill="none" stroke="#000000" stroke-width="0.42"/>
<circle cx="361.1" cy="553.8" r="2.3" fill="none" stroke="#000000" stroke-width="0.42"/>
<path d="M117.9 538.8l4.6 4.6 M117.9 543.4l4.6 -4.6" fill="none" stroke="#c81414" stroke-width="0.6"/>
<path d="M145.7 541.3l4.6 4.6 M145.7 545.9l4.6 -4.6" fill="none" stroke="#c81414" stroke-width="0.6"/>
<path d="M170.3 543.4l4.6 4.6 M170.3 548l4.6 -4.6" fill="none" stroke="#c81414" stroke-width="0.6"/>
<path d="M192.6 544.4l4.6 4.6 M192.6 549l4.6 -4.6" fill="none" stroke="#c81414" stroke-width="0.6"/>
<path d="M213.2 544.4l4.6 4.6 M213.2 549l4.6 -4.6" fill="none" stroke="#c81414" stroke-width="0.6"/>
<path d="M232.1 547.5l4.6 4.6 M232.1 552.1l4.6 -4.6" fill="none" stroke="#c81414" stroke-width="0.6"/>
<path d="M249.9 547.9l4.6 4.6 M249.9 552.5l4.6 -4.6" fill="none" stroke="#c81414" stroke-width="0.6"/>
<path d="M266.4 550.6l4.6 4.6 M266.4 555.2l4.6 -4.6" fill="none" stroke="#c81414" stroke-width="0.6"/>
<path d="M281.9 550.8l4.6 4.6 M281.9 555.4l4.6 -4.6" fill="none" stroke="#c81414" stroke-width="0.6"/>
<path d="M296.3 551.9l4.6 4.6 M296.3 556.5l4.6 -4.6" fill="none" stroke="#c81414" stroke-width="0.6"/>
<path d="M310.2 552.9l4.6 4.6 M310.2 557.5l4.6 -4.6" fill="none" stroke="#c81414" stroke-width="0.6"/>
<path d="M323.1 552.9l4.6 4.6 M323.1 557.5l4.6 -4.6" fill="none" stroke="#c81414" stroke-width="0.6"/>
<path d="M335.6 553.5l4.6 4.6 M335.6 558.1l4.6 -4.6" fill="none" stroke="#c81414" stroke-width="0.6"/>
<path d="M347.2 555.6l4.6 4.6 M347.2 560.2l4.6 -4.6" fill="none" stroke="#c81414" stroke-width="0.6"/>
<path d="M358.8 556.2l4.6 4.6 M358.8 560.8l4.6 -4.6" fill="none" stroke="#c81414" stroke-width="0.6"/>
<rect x="117.95" y="543.45" width="4.5" height="4.5" fill="none" stroke="#560ccf" stroke-width="0.34"/>
<rect x="145.75" y="545.45" width="4.5" height="4.5" fill="none" stroke="#560ccf" stroke-width="0.34"/>
<rect x="170.35" y="547.95" width="4.5" height="4.5" fill="none" stroke="#560ccf" stroke-width="0.34"/>
<rect x="192.65" y="549.65" width="4.5" height="4.5" fill="none" stroke="#560ccf" stroke-width="0.34"/>
<rect x="213.25" y="549.15" width="4.5" height="4.5" fill="none" stroke="#560ccf" stroke-width="0.34"/>
<rect x="232.15" y="552.75" width="4.5" height="4.5" fill="none" stroke="#560ccf" stroke-width="0.34"/>
<rect x="249.95" y="550.65" width="4.5" height="4.5" fill="none" stroke="#560ccf" stroke-width="0.34"/>
<rect x="266.45" y="554.75" width="4.5" height="4.5" fill="none" stroke="#560ccf" stroke-width="0.34"/>
<rect x="281.95" y="555.05" width="4.5" height="4.5" fill="none" stroke="#560ccf" stroke-width="0.34"/>
<rect x="296.35" y="556.65" width="4.5" height="4.5" fill="none" stroke="#560ccf" stroke-width="0.34"/>
<rect x="310.25" y="556.65" width="4.5" height="4.5" fill="none" stroke="#560ccf" stroke-width="0.34"/>
<rect x="323.15" y="557.05" width="4.5" height="4.5" fill="none" stroke="#560ccf" stroke-width="0.34"/>
<rect x="335.65" y="557.75" width="4.5" height="4.5" fill="none" stroke="#560ccf" stroke-width="0.34"/>
<rect x="347.25" y="559.15" width="4.5" height="4.5" fill="none" stroke="#560ccf" stroke-width="0.34"/>
<rect x="358.85" y="558.75" width="4.5" height="4.5" fill="none" stroke="#560ccf" stroke-width="0.34"/>
<path d="M120.2 545.8L122.5 548.1L120.2 550.4L117.9 548.1z" fill="none" stroke="#0a7d1e" stroke-width="0.62"/>
<path d="M148 547.9L150.3 550.2L148 552.5L145.7 550.2z" fill="none" stroke="#0a7d1e" stroke-width="0.62"/>
<path d="M172.6 549.6L174.9 551.9L172.6 554.2L170.3 551.9z" fill="none" stroke="#0a7d1e" stroke-width="0.62"/>
<path d="M194.9 552.4L197.2 554.7L194.9 557L192.6 554.7z" fill="none" stroke="#0a7d1e" stroke-width="0.62"/>
<path d="M215.5 551.6L217.8 553.9L215.5 556.2L213.2 553.9z" fill="none" stroke="#0a7d1e" stroke-width="0.62"/>
<path d="M234.4 554.7L236.7 557L234.4 559.3L232.1 557z" fill="none" stroke="#0a7d1e" stroke-width="0.62"/>
<path d="M252.2 553.1L254.5 555.4L252.2 557.7L249.9 555.4z" fill="none" stroke="#0a7d1e" stroke-width="0.62"/>
<path d="M268.7 557.8L271 560.1L268.7 562.4L266.4 560.1z" fill="none" stroke="#0a7d1e" stroke-width="0.62"/>
<path d="M284.2 557.7L286.5 560L284.2 562.3L281.9 560z" fill="none" stroke="#0a7d1e" stroke-width="0.62"/>
<path d="M298.6 559.1L300.9 561.4L298.6 563.7L296.3 561.4z" fill="none" stroke="#0a7d1e" stroke-width="0.62"/>
<path d="M312.5 559.1L314.8 561.4L312.5 563.7L310.2 561.4z" fill="none" stroke="#0a7d1e" stroke-width="0.62"/>
<path d="M325.4 559.7L327.7 562L325.4 564.3L323.1 562z" fill="none" stroke="#0a7d1e" stroke-width="0.62"/>
<path d="M337.9 559.7L340.2 562L337.9 564.3L335.6 562z" fill="none" stroke="#0a7d1e" stroke-width="0.62"/>
<path d="M349.5 560.8L351.8 563.1L349.5 565.4L347.2 563.1z" fill="none" stroke="#0a7d1e" stroke-width="0.62"/>
<path d="M361.1 560.3L363.4 562.6L361.1 564.9L358.8 562.6z" fill="none" stroke="#0a7d1e" stroke-width="0.62"/>
<path d="M120.2 547.3L122.5 551.8L117.9 551.8z" fill="none" stroke="#f0057f" stroke-width="0.42"/>
<path d="M148 550L150.3 554.5L145.7 554.5z" fill="none" stroke="#f0057f" stroke-width="0.42"/>
<path d="M172.6 551.4L174.9 555.9L170.3 555.9z" fill="none" stroke="#f0057f" stroke-width="0.42"/>
<path d="M194.9 554.5L197.2 559L192.6 559z" fill="none" stroke="#f0057f" stroke-width="0.42"/>
<path d="M215.5 553.5L217.8 558L213.2 558z" fill="none" stroke="#f0057f" stroke-width="0.42"/>
<path d="M234.4 556.6L236.7 561.1L232.1 561.1z" fill="none" stroke="#f0057f" stroke-width="0.42"/>
<path d="M252.2 554.5L254.5 559L249.9 559z" fill="none" stroke="#f0057f" stroke-width="0.42"/>
<path d="M268.7 559.7L271 564.2L266.4 564.2z" fill="none" stroke="#f0057f" stroke-width="0.42"/>
<path d="M284.2 559.5L286.5 564L281.9 564z" fill="none" stroke="#f0057f" stroke-width="0.42"/>
<path d="M298.6 561.6L300.9 566.1L296.3 566.1z" fill="none" stroke="#f0057f" stroke-width="0.42"/>
<path d="M312.5 561L314.8 565.5L310.2 565.5z" fill="none" stroke="#f0057f" stroke-width="0.42"/>
<path d="M325.4 561.6L327.7 566.1L323.1 566.1z" fill="none" stroke="#f0057f" stroke-width="0.42"/>
<path d="M337.9 562L340.2 566.5L335.6 566.5z" fill="none" stroke="#f0057f" stroke-width="0.42"/>
<path d="M349.5 563L351.8 567.5L347.2 567.5z" fill="none" stroke="#f0057f" stroke-width="0.42"/>
<path d="M361.1 562.2L363.4 566.7L358.8 566.7z" fill="none" stroke="#f0057f" stroke-width="0.42"/>
<circle cx="120.2" cy="570.9" r="2.45" fill="#000000"/>
<circle cx="148" cy="580.8" r="2.45" fill="#000000"/>
<circle cx="172.6" cy="579.1" r="2.45" fill="#000000"/>
<circle cx="194.9" cy="583.7" r="2.45" fill="#000000"/>
<circle cx="215.5" cy="583.3" r="2.45" fill="#000000"/>
<circle cx="234.4" cy="592.5" r="2.45" fill="#000000"/>
<circle cx="252.2" cy="571.5" r="2.45" fill="#000000"/>
<circle cx="268.7" cy="582.9" r="2.45" fill="#000000"/>
<circle cx="284.2" cy="618.1" r="2.45" fill="#000000"/>
<circle cx="298.6" cy="573.4" r="2.45" fill="#000000"/>
<circle cx="312.5" cy="584.8" r="2.45" fill="#000000"/>
<circle cx="325.4" cy="595.7" r="2.45" fill="#000000"/>
<circle cx="337.9" cy="592.6" r="2.45" fill="#000000"/>
<circle cx="349.5" cy="602.7" r="2.45" fill="#000000"/>
<circle cx="361.1" cy="583.3" r="2.45" fill="#000000"/>
<path d="M117.9 576.8h4.6v4.6h-4.6z M117.9 576.8l4.6 4.6 M117.9 581.4l4.6 -4.6" fill="none" stroke="#c81414" stroke-width="0.5"/>
<path d="M145.7 569.6h4.6v4.6h-4.6z M145.7 569.6l4.6 4.6 M145.7 574.2l4.6 -4.6" fill="none" stroke="#c81414" stroke-width="0.5"/>
<path d="M170.3 591.9h4.6v4.6h-4.6z M170.3 591.9l4.6 4.6 M170.3 596.5l4.6 -4.6" fill="none" stroke="#c81414" stroke-width="0.5"/>
<path d="M192.6 592.9h4.6v4.6h-4.6z M192.6 592.9l4.6 4.6 M192.6 597.5l4.6 -4.6" fill="none" stroke="#c81414" stroke-width="0.5"/>
<path d="M213.2 565.5h4.6v4.6h-4.6z M213.2 565.5l4.6 4.6 M213.2 570.1l4.6 -4.6" fill="none" stroke="#c81414" stroke-width="0.5"/>
<path d="M249.9 589.8h4.6v4.6h-4.6z M249.9 589.8l4.6 4.6 M249.9 594.4l4.6 -4.6" fill="none" stroke="#c81414" stroke-width="0.5"/>
<path d="M266.4 598.1h4.6v4.6h-4.6z M266.4 598.1l4.6 4.6 M266.4 602.7l4.6 -4.6" fill="none" stroke="#c81414" stroke-width="0.5"/>
<path d="M281.9 576.9h4.6v4.6h-4.6z M281.9 576.9l4.6 4.6 M281.9 581.5l4.6 -4.6" fill="none" stroke="#c81414" stroke-width="0.5"/>
<path d="M296.3 573.6h4.6v4.6h-4.6z M296.3 573.6l4.6 4.6 M296.3 578.2l4.6 -4.6" fill="none" stroke="#c81414" stroke-width="0.5"/>
<path d="M310.2 595.9h4.6v4.6h-4.6z M310.2 595.9l4.6 4.6 M310.2 600.5l4.6 -4.6" fill="none" stroke="#c81414" stroke-width="0.5"/>
<path d="M323.1 582h4.6v4.6h-4.6z M323.1 582l4.6 4.6 M323.1 586.6l4.6 -4.6" fill="none" stroke="#c81414" stroke-width="0.5"/>
<path d="M335.6 650.3h4.6v4.6h-4.6z M335.6 650.3l4.6 4.6 M335.6 654.9l4.6 -4.6" fill="none" stroke="#c81414" stroke-width="0.5"/>
<path d="M347.2 594.8h4.6v4.6h-4.6z M347.2 594.8l4.6 4.6 M347.2 599.4l4.6 -4.6" fill="none" stroke="#c81414" stroke-width="0.5"/>
<path d="M358.8 571.5h4.6v4.6h-4.6z M358.8 571.5l4.6 4.6 M358.8 576.1l4.6 -4.6" fill="none" stroke="#c81414" stroke-width="0.5"/>
<rect x="117.7" y="574.2" width="5" height="5" fill="#560ccf"/>
<rect x="145.5" y="585.5" width="5" height="5" fill="#560ccf"/>
<rect x="170.1" y="584.1" width="5" height="5" fill="#560ccf"/>
<rect x="192.4" y="593.5" width="5" height="5" fill="#560ccf"/>
<rect x="213" y="568.4" width="5" height="5" fill="#560ccf"/>
<rect x="231.9" y="588.2" width="5" height="5" fill="#560ccf"/>
<rect x="249.7" y="585.5" width="5" height="5" fill="#560ccf"/>
<rect x="266.2" y="572.1" width="5" height="5" fill="#560ccf"/>
<rect x="281.7" y="593.7" width="5" height="5" fill="#560ccf"/>
<rect x="296.1" y="583.3" width="5" height="5" fill="#560ccf"/>
<rect x="310" y="584.3" width="5" height="5" fill="#560ccf"/>
<rect x="322.9" y="603.9" width="5" height="5" fill="#560ccf"/>
<rect x="335.4" y="588.5" width="5" height="5" fill="#560ccf"/>
<rect x="347" y="575.4" width="5" height="5" fill="#560ccf"/>
<rect x="358.6" y="588" width="5" height="5" fill="#560ccf"/>
<path d="M120.2 580.3L122.8 582.9L120.2 585.5L117.6 582.9z" fill="#0a7d1e"/>
<path d="M148 584L150.6 586.6L148 589.2L145.4 586.6z" fill="#0a7d1e"/>
<path d="M194.9 569.9L197.5 572.5L194.9 575.1L192.3 572.5z" fill="#0a7d1e"/>
<path d="M215.5 586.4L218.1 589L215.5 591.6L212.9 589z" fill="#0a7d1e"/>
<path d="M234.4 584L237 586.6L234.4 589.2L231.8 586.6z" fill="#0a7d1e"/>
<path d="M252.2 589.5L254.8 592.1L252.2 594.7L249.6 592.1z" fill="#0a7d1e"/>
<path d="M268.7 578.2L271.3 580.8L268.7 583.4L266.1 580.8z" fill="#0a7d1e"/>
<path d="M284.2 595.2L286.8 597.8L284.2 600.4L281.6 597.8z" fill="#0a7d1e"/>
<path d="M298.6 582.2L301.2 584.8L298.6 587.4L296 584.8z" fill="#0a7d1e"/>
<path d="M312.5 585.9L315.1 588.5L312.5 591.1L309.9 588.5z" fill="#0a7d1e"/>
<path d="M325.4 572.8L328 575.4L325.4 578L322.8 575.4z" fill="#0a7d1e"/>
<path d="M337.9 597.6L340.5 600.2L337.9 602.8L335.3 600.2z" fill="#0a7d1e"/>
<path d="M349.5 588.8L352.1 591.4L349.5 594L346.9 591.4z" fill="#0a7d1e"/>
<path d="M361.1 578L363.7 580.6L361.1 583.2L358.5 580.6z" fill="#0a7d1e"/>
<path d="M120.2 574.1L122.65 578.8L117.75 578.8z" fill="#f0057f"/>
<path d="M148 590.6L150.45 595.3L145.55 595.3z" fill="#f0057f"/>
<path d="M172.6 579.2L175.05 583.9L170.15 583.9z" fill="#f0057f"/>
<path d="M194.9 585.7L197.35 590.4L192.45 590.4z" fill="#f0057f"/>
<path d="M215.5 571.6L217.95 576.3L213.05 576.3z" fill="#f0057f"/>
<path d="M234.4 588.5L236.85 593.2L231.95 593.2z" fill="#f0057f"/>
<path d="M252.2 579.8L254.65 584.5L249.75 584.5z" fill="#f0057f"/>
<path d="M268.7 584.4L271.15 589.1L266.25 589.1z" fill="#f0057f"/>
<path d="M284.2 606.2L286.65 610.9L281.75 610.9z" fill="#f0057f"/>
<path d="M298.6 573.3L301.05 578L296.15 578z" fill="#f0057f"/>
<path d="M312.5 586.3L314.95 591L310.05 591z" fill="#f0057f"/>
<path d="M325.4 596.2L327.85 600.9L322.95 600.9z" fill="#f0057f"/>
<path d="M337.9 589L340.35 593.7L335.45 593.7z" fill="#f0057f"/>
<path d="M349.5 574.9L351.95 579.6L347.05 579.6z" fill="#f0057f"/>
<path d="M361.1 578L363.55 582.7L358.65 582.7z" fill="#f0057f"/>
</g>
<path d="M74.3 489.4H470.4V683.3H74.3z" fill="none" stroke="#606060" stroke-width="0.62"/>
<path d="M119.17 683.3v-2.7 M119.17 489.4v2.7M157.11 683.3v-2.7 M157.11 489.4v2.7M189.97 683.3v-2.7 M189.97 489.4v2.7M218.96 683.3v-2.7 M218.96 489.4v2.7M415.48 683.3v-2.7 M415.48 489.4v2.7M244.89 683.3v-4.7 M244.89 489.4v4.7M74.3 489.4h4.7 M470.4 489.4h-4.7M74.3 523.28h2.7 M470.4 523.28h-2.7M74.3 514.75h2.7 M470.4 514.75h-2.7M74.3 508.69h2.7 M470.4 508.69h-2.7M74.3 503.99h2.7 M470.4 503.99h-2.7M74.3 500.15h2.7 M470.4 500.15h-2.7M74.3 496.91h2.7 M470.4 496.91h-2.7M74.3 494.1h2.7 M470.4 494.1h-2.7M74.3 491.62h2.7 M470.4 491.62h-2.7M74.3 537.88h4.7 M470.4 537.88h-4.7M74.3 571.76h2.7 M470.4 571.76h-2.7M74.3 563.22h2.7 M470.4 563.22h-2.7M74.3 557.17h2.7 M470.4 557.17h-2.7M74.3 552.47h2.7 M470.4 552.47h-2.7M74.3 548.63h2.7 M470.4 548.63h-2.7M74.3 545.38h2.7 M470.4 545.38h-2.7M74.3 542.57h2.7 M470.4 542.57h-2.7M74.3 540.09h2.7 M470.4 540.09h-2.7M74.3 586.35h4.7 M470.4 586.35h-4.7M74.3 620.23h2.7 M470.4 620.23h-2.7M74.3 611.7h2.7 M470.4 611.7h-2.7M74.3 605.64h2.7 M470.4 605.64h-2.7M74.3 600.94h2.7 M470.4 600.94h-2.7M74.3 597.1h2.7 M470.4 597.1h-2.7M74.3 593.86h2.7 M470.4 593.86h-2.7M74.3 591.05h2.7 M470.4 591.05h-2.7M74.3 588.57h2.7 M470.4 588.57h-2.7M74.3 634.82h4.7 M470.4 634.82h-4.7M74.3 668.71h2.7 M470.4 668.71h-2.7M74.3 660.17h2.7 M470.4 660.17h-2.7M74.3 654.12h2.7 M470.4 654.12h-2.7M74.3 649.42h2.7 M470.4 649.42h-2.7M74.3 645.58h2.7 M470.4 645.58h-2.7M74.3 642.33h2.7 M470.4 642.33h-2.7M74.3 639.52h2.7 M470.4 639.52h-2.7M74.3 637.04h2.7 M470.4 637.04h-2.7M74.3 683.3h4.7 M470.4 683.3h-4.7" fill="none" stroke="#606060" stroke-width="0.48"/>
<text x="118.07" y="700.6" font-size="18" text-anchor="middle">0.0006</text>
<text x="188.87" y="700.6" font-size="18" text-anchor="middle">0.0008</text>
<text x="243.79" y="700.6" font-size="18" text-anchor="middle">0.0010</text>
<text x="417.08" y="700.6" font-size="18" text-anchor="middle">0.0020</text>
<text x="69.3" y="492.3" font-size="18" text-anchor="end">10<tspan font-size="12.2" dy="-6.1" dx="-0.6">4</tspan></text>
<text x="69.3" y="540.77" font-size="18" text-anchor="end">10<tspan font-size="12.2" dy="-6.1" dx="-0.6">3</tspan></text>
<text x="69.3" y="589.25" font-size="18" text-anchor="end">10<tspan font-size="12.2" dy="-6.1" dx="-0.6">2</tspan></text>
<text x="69.3" y="637.72" font-size="18" text-anchor="end">10<tspan font-size="12.2" dy="-6.1" dx="-0.6">1</tspan></text>
<text x="69.3" y="686.2" font-size="18" text-anchor="end">10<tspan font-size="12.2" dy="-6.1" dx="-0.6">0</tspan></text>
<text x="298.1" y="710.2" font-size="22.8" font-style="italic">p</text>
<text transform="translate(26.8 586.35) rotate(-90)" font-size="26.4" text-anchor="middle">−Δ<tspan font-style="italic">f</tspan>/Δ<tspan font-style="italic">p</tspan></text>
<text x="307.2" y="507.7" class="c" font-size="13.7" textLength="151.2" lengthAdjust="spacingAndGlyphs">solid symbols = Gaussian</text>
<text x="307.2" y="522" class="c" font-size="13.7" textLength="153" lengthAdjust="spacingAndGlyphs">open symbols = quadratic</text>
<text x="85.8" y="670.5" class="l" font-size="17.9"><tspan font-style="italic">N</tspan> = 8192</text>
<circle cx="381.8" cy="601.1" r="2.45" fill="#000000"/>
<circle cx="395.2" cy="600.5" r="2.3" fill="none" stroke="#000000" stroke-width="0.42"/>
<text x="410.5" y="606.8" class="l" font-size="17.9" style="fill:#000000;stroke:#000000"><tspan font-style="italic">R</tspan> = 2.8</text>
<path d="M379.5 615.8h4.6v4.6h-4.6z M379.5 615.8l4.6 4.6 M379.5 620.4l4.6 -4.6" fill="none" stroke="#c81414" stroke-width="0.5"/>
<path d="M392.9 615.8l4.6 4.6 M392.9 620.4l4.6 -4.6" fill="none" stroke="#c81414" stroke-width="0.6"/>
<text x="410.5" y="623.7" class="l" font-size="17.9" style="fill:#c81414;stroke:#c81414"><tspan font-style="italic">R</tspan> = 4.2</text>
<rect x="379.3" y="632.7" width="5" height="5" fill="#560ccf"/>
<rect x="392.95" y="632.95" width="4.5" height="4.5" fill="none" stroke="#560ccf" stroke-width="0.34"/>
<text x="410.5" y="640.9" class="l" font-size="17.9" style="fill:#560ccf;stroke:#560ccf"><tspan font-style="italic">R</tspan> = 5.8</text>
<path d="M382.7 649.5L385.3 652.1L382.7 654.7L380.1 652.1z" fill="#0a7d1e"/>
<path d="M395.2 649.8L397.5 652.1L395.2 654.4L392.9 652.1z" fill="none" stroke="#0a7d1e" stroke-width="0.62"/>
<text x="410.5" y="657.8" class="l" font-size="17.9" style="fill:#0a7d1e;stroke:#0a7d1e"><tspan font-style="italic">R</tspan> = 7.0</text>
<path d="M381.8 667.3L384.25 672L379.35 672z" fill="#f0057f"/>
<path d="M395.2 667.4L397.5 671.9L392.9 671.9z" fill="none" stroke="#f0057f" stroke-width="0.42"/>
<text x="410.5" y="675" class="l" font-size="17.9" style="fill:#f0057f;stroke:#f0057f"><tspan font-style="italic">R</tspan> = 8.2</text>
</svg>
</body></html>
